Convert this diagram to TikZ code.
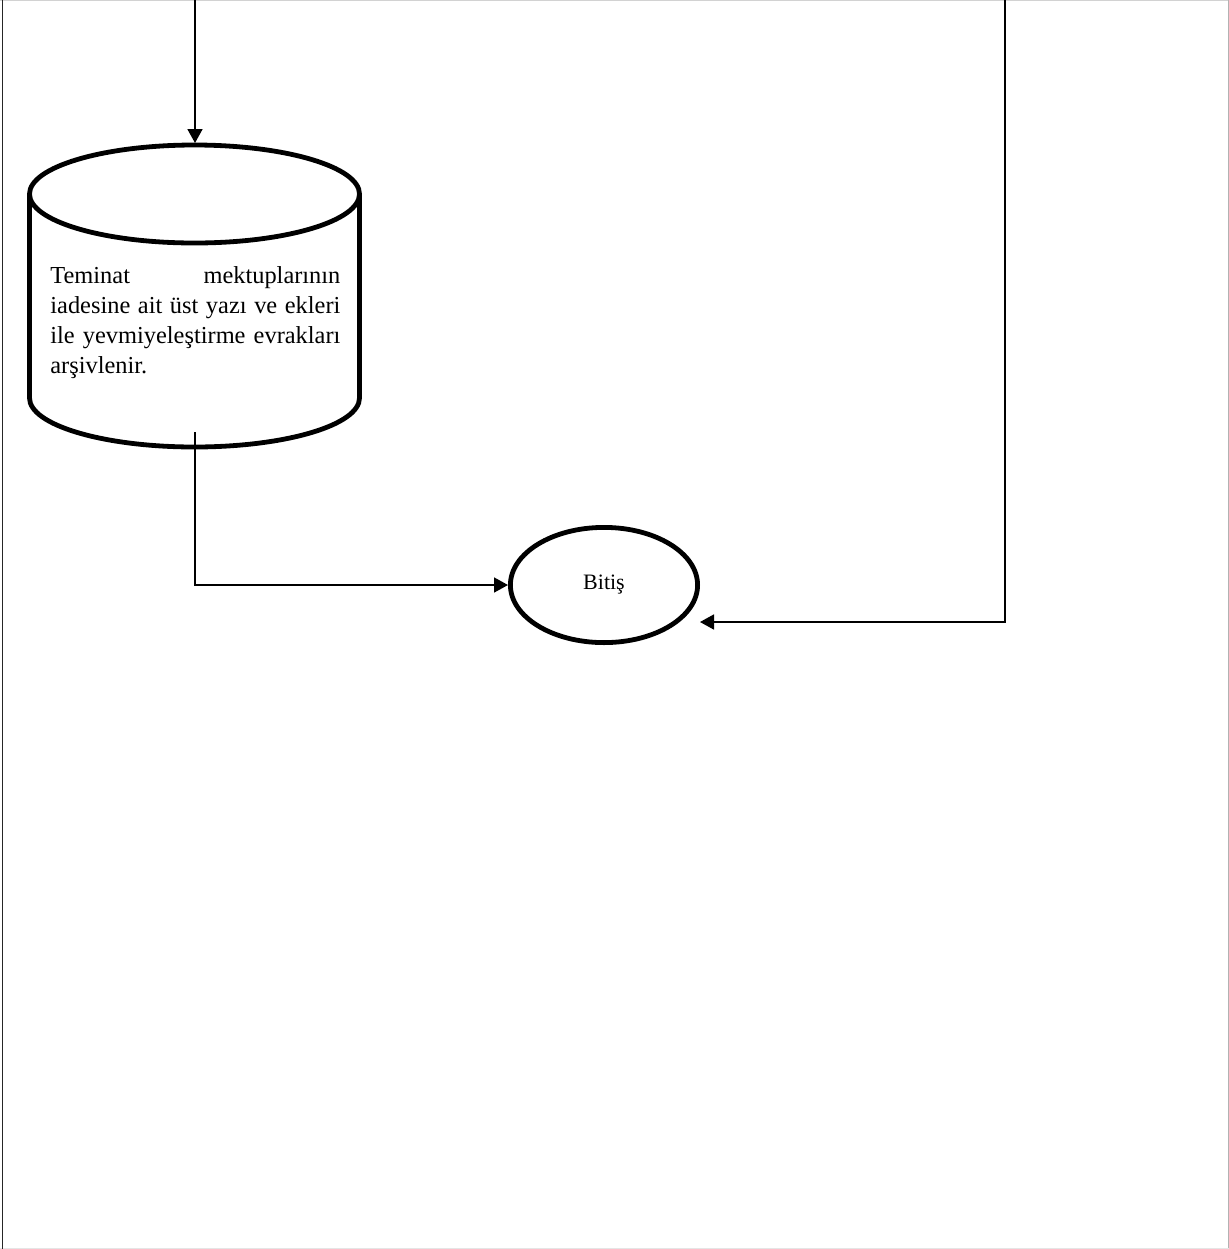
\documentclass[tikz,border=0pt]{standalone}
\usepackage{fontspec}
\setmainfont{Liberation Serif}
\usetikzlibrary{
    shapes.geometric,
    arrows.meta,
    positioning,
    calc
}
\tikzset{
    % Thick outline used by the end shape and the archive cylinder
    bold shape/.style={
        draw=black,
        line width=2.4pt,
    },
    % Stop node - plain ellipse
    startstop/.style={
        bold shape,
        ellipse,
        minimum width=93.6pt,
        minimum height=57.6pt,
        inner sep=0pt,
        font=\fontsize{11}{13}\selectfont,
    },
    % Text inside the archive cylinder
    archive text/.style={
        anchor=north west,
        inner sep=0pt,
        text width=145pt,
        align=justify,
        font=\fontsize{12.2}{15}\selectfont,
    },
    % Thin arrow with a solid triangle tip
    arrow/.style={
        -{Triangle[length=7pt, width=7.5pt]},
        line width=0.85pt,
    },
    % Page frame lines
    frame line/.style={
        line width=0.5pt,
        draw=gray!35,
    },
}

\begin{document}
\begin{tikzpicture}[x=0.5pt, y=-0.5pt]
    \useasboundingbox (0,0) rectangle (1229,1249);

    % page frame
    \draw [frame line] (0,0.5) -- (1229,0.5);
    \draw [frame line, draw=gray!60] (1228,0) -- (1228,1249);
    \draw [frame line, draw=gray!20] (0,1248) -- (1229,1248);
    \draw [frame line, draw=black!85, line width=0.8pt] (2.5,0) -- (2.5,1249);

    % archive cylinder
    \draw [bold shape] (29.5,194) -- (29.5,398)
        arc[start angle=180, end angle=0, x radius=165, y radius=49] -- (359.5,194);
    \draw [bold shape] (194.5,194) ellipse [x radius=165, y radius=49];
    \node (archive) [archive text] at (50,266) {Teminat mektuplarının\linebreak
        iadesine ait üst yazı ve ekleri\linebreak
        ile yevmiyeleştirme evrakları\linebreak
        arşivlenir.};

    \node (stop) [startstop] at (604,585) {Bitiş};

    \coordinate (left in) at (195,0);
    \coordinate (archive top) at (195,143);
    \coordinate (archive out) at (195,432);
    \coordinate (right in) at (1005,0);

    \draw [arrow] (left in) -- (archive top);
    \draw [arrow] (archive out) |- (stop.west);
    \draw [arrow] (right in) |- ([yshift=-18.5pt]stop.east);
\end{tikzpicture}
\end{document}
